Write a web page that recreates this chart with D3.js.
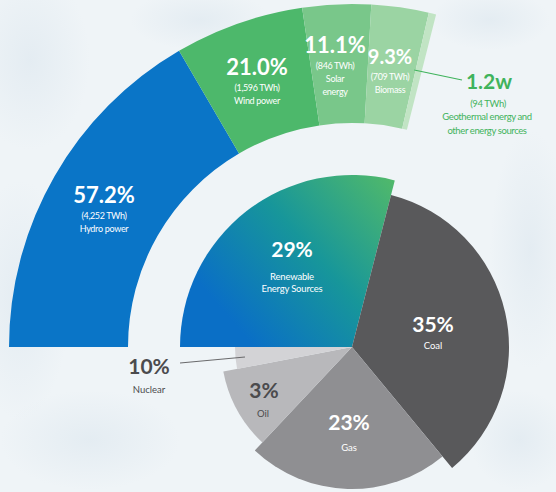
<!DOCTYPE html>
<html><head><meta charset="utf-8">
<script src="https://cdn.jsdelivr.net/npm/d3@7"></script>
<style>
html,body{margin:0;padding:0;background:#eef3f7;}
svg{display:block;font-family:Lato,"Open Sans",sans-serif;}
</style></head>
<body><svg id="c" width="556" height="492"></svg>
<script>
// ---- data ----
const renewNames = ["Hydro power","Wind power","Solar energy","Biomass","Geothermal energy and other energy sources"];
const renewShares = [57.2, 21.0, 11.1, 9.3, 1.2];
const renewPctLabels = ["57.2%","21.0%","11.1%","9.3%","1.2w"];
const renewTWh = ["(4,252 TWh)","(1,596 TWh)","(846 TWh)","(709 TWh)","(94 TWh)"];
const mixNames = ["Renewable Energy Sources","Coal","Gas","Oil","Nuclear"];
const mixAngleShares = [29, 35, 23, 10, 3];
const mixPctLabels = ["29%","35%","23%","3%","10%"];

// ---- styles / layout ----
const W=556,H=492, cx=352, cy=347;
const ringInner=224, ringOuter=343;
const mixRadius=[172,157,142,131,117];
const renewColors=["#0a75c7","#4db86b","#79c78a","#9bd4a3","#c1e4c4"];
const mixColors=["url(#rg)","#59595b","#8f8f92","#b8b8bb","#d3d3d6"];

const svg=d3.select("#c");
const defs=svg.append("defs");
// background texture
const bg=defs.append("radialGradient").attr("id","bgp");
bg.append("stop").attr("offset","0%").attr("stop-color","#dbe6ee").attr("stop-opacity",0.55);
bg.append("stop").attr("offset","100%").attr("stop-color","#dbe6ee").attr("stop-opacity",0);
svg.append("rect").attr("width",W).attr("height",H).attr("fill","#eff4f7");
const patches=[[30,60,60,90],[20,300,50,120],[90,440,90,50],[530,250,40,120],[520,440,50,50],[200,20,70,30],[490,20,60,30]];
svg.append("g").selectAll("ellipse").data(patches).join("ellipse")
  .attr("cx",d=>d[0]).attr("cy",d=>d[1]).attr("rx",d=>d[2]).attr("ry",d=>d[3])
  .attr("fill","url(#bgp)");

const lg=defs.append("linearGradient").attr("id","rg").attr("gradientUnits","userSpaceOnUse")
  .attr("x1",200).attr("y1",340).attr("x2",360).attr("y2",200);
lg.append("stop").attr("offset","0%").attr("stop-color","#0a6fc6");
lg.append("stop").attr("offset","50%").attr("stop-color","#17969a");
lg.append("stop").attr("offset","100%").attr("stop-color","#4fb86c");

const g=svg.append("g").attr("transform",`translate(${cx},${cy})`);

// inner pie
const mixPie=d3.pie().sort(null).startAngle(-Math.PI/2).endAngle(1.5*Math.PI)(mixAngleShares);
const renewStart=mixPie[0].startAngle, renewEnd=mixPie[0].endAngle;
g.selectAll("path.mix").data(mixPie).join("path").attr("class","mix")
  .attr("d",(d,i)=>d3.arc().innerRadius(0).outerRadius(mixRadius[i])(d))
  .attr("fill",(d,i)=>mixColors[i]);

// outer ring
const totalRenew=d3.sum(renewShares);
const ringPie=d3.pie().sort(null).startAngle(renewStart)
  .endAngle(renewStart+(renewEnd-renewStart)*totalRenew/100)(renewShares);
const ringArc=d3.arc().innerRadius(ringInner).outerRadius(ringOuter);
g.selectAll("path.ring").data(ringPie).join("path").attr("class","ring")
  .attr("d",ringArc).attr("fill",(d,i)=>renewColors[i]);

// labels
function txt(x,y,s,size,weight,fill,anchor){
  return svg.append("text").attr("x",x).attr("y",y).attr("text-anchor",anchor||"middle")
    .attr("font-size",size).attr("font-weight",weight).attr("fill",fill).text(s);
}
const white="#ffffff";
const ringLabelPos=[[104,203],[257,75],[335,53],[390,64]];
const ringSub=[["Hydro power"],["Wind power"],["Solar","energy"],["Biomass"]];
ringLabelPos.forEach((p,i)=>{
  txt(p[0],p[1],renewPctLabels[i],i===3?20:22,700,white);
  txt(p[0],p[1]+16,renewTWh[i],9,400,white).attr("letter-spacing",-0.4);
  ringSub[i].forEach((s,k)=>txt(p[0],p[1]+29+k*13,s,9,400,white).attr("letter-spacing",-0.3));
});
// geothermal callout
const gc="#3fb35c";
svg.append("line").attr("x1",cx+Math.sin(ringPie[4].startAngle)*(ringOuter-65)).attr("y1",70)
  .attr("x2",462).attr("y2",80).attr("stroke",gc).attr("stroke-width",1.2);
txt(489,89,renewPctLabels[4],21,700,gc);
txt(488,107,renewTWh[4],9.5,400,gc).attr("letter-spacing",-0.4);
txt(487,120,"Geothermal energy and",9.5,400,gc).attr("letter-spacing",-0.4);
txt(487,134,"other energy sources",9.5,400,gc).attr("letter-spacing",-0.4);

// pie labels
txt(292,257,mixPctLabels[0],21,700,white);
txt(292,280,"Renewable",9.5,400,white).attr("letter-spacing",-0.2);
txt(292,292,"Energy Sources",9.5,400,white).attr("letter-spacing",-0.2);
txt(433,332,mixPctLabels[1],21,700,white);
txt(433,349,"Coal",9.5,400,white);
txt(349,430,mixPctLabels[2],21,700,white);
txt(349,451,"Gas",9.5,400,white);
const dk="#4b4b4d";
txt(264,398,mixPctLabels[3],21,700,dk);
txt(263,417,"Oil",9.5,400,dk);
txt(149,374,mixPctLabels[4],21,700,dk);
txt(149,393,"Nuclear",9.5,400,dk);
svg.append("line").attr("x1",180).attr("y1",363).attr("x2",245).attr("y2",357)
  .attr("stroke","#6a6a6c").attr("stroke-width",1.2);
</script></body></html>
